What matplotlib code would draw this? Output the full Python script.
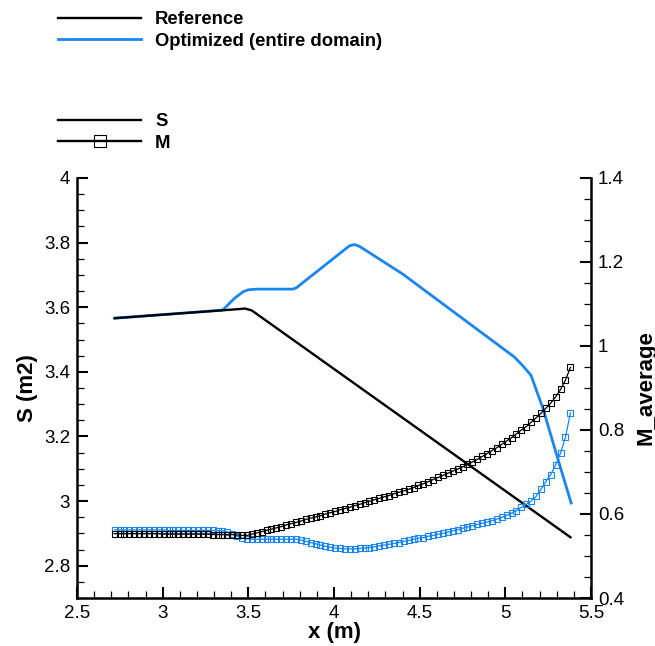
import matplotlib
matplotlib.use("Agg")
import matplotlib.pyplot as plt
from matplotlib.lines import Line2D
from matplotlib.ticker import MultipleLocator

plt.rcParams["font.family"] = ["Liberation Sans", "DejaVu Sans"]

BLUE = "#1a86f2"

# -------------------------------------------------------
# Data
# -------------------------------------------------------
# area S along the duct: reference and optimized shape
x_s_ref = [2.72, 3.44, 3.48, 3.52, 5.38]
s_ref = [3.566, 3.594, 3.596, 3.590, 2.888]

x_s_opt = [2.72, 3.35, 3.42, 3.47, 3.50, 3.55, 3.76, 3.78, 4.09, 4.12, 4.15,
           4.40, 5.05, 5.10, 5.15, 5.22, 5.30, 5.384]
s_opt = [3.566, 3.591, 3.628, 3.648, 3.654, 3.656, 3.656, 3.660, 3.790, 3.794, 3.788,
         3.703, 3.447, 3.420, 3.389, 3.286, 3.142, 2.994]

# sampling stations of the averaged Mach number
x_m = [
    2.720, 2.749, 2.777, 2.806, 2.834, 2.863, 2.892, 2.920, 2.949, 2.977,
    3.006, 3.035, 3.063, 3.092, 3.120, 3.149, 3.178, 3.206, 3.235, 3.263,
    3.292, 3.321, 3.349, 3.378, 3.406, 3.435, 3.464, 3.493, 3.521, 3.550,
    3.578, 3.607, 3.635, 3.664, 3.692, 3.721, 3.750, 3.778, 3.807, 3.835,
    3.864, 3.893, 3.921, 3.950, 3.978, 4.007, 4.036, 4.064, 4.093, 4.121,
    4.150, 4.179, 4.207, 4.236, 4.264, 4.293, 4.322, 4.350, 4.379, 4.407,
    4.436, 4.465, 4.493, 4.522, 4.550, 4.579, 4.608, 4.636, 4.665, 4.693,
    4.722, 4.751, 4.779, 4.808, 4.836, 4.865, 4.894, 4.922, 4.951, 4.979,
    5.008, 5.037, 5.065, 5.094, 5.122, 5.151, 5.180, 5.208, 5.237, 5.265,
    5.294, 5.323, 5.351, 5.380,
]
m_ref = [
    0.553, 0.553, 0.553, 0.553, 0.553, 0.553, 0.553, 0.553, 0.553, 0.553,
    0.552, 0.552, 0.552, 0.552, 0.552, 0.552, 0.552, 0.552, 0.552, 0.552,
    0.551, 0.551, 0.551, 0.551, 0.551, 0.550, 0.549, 0.549, 0.552, 0.555,
    0.558, 0.561, 0.564, 0.567, 0.570, 0.574, 0.577, 0.580, 0.583, 0.587,
    0.590, 0.593, 0.596, 0.600, 0.603, 0.606, 0.610, 0.613, 0.616, 0.620,
    0.623, 0.627, 0.630, 0.634, 0.637, 0.641, 0.644, 0.648, 0.652, 0.655,
    0.659, 0.663, 0.668, 0.672, 0.677, 0.682, 0.687, 0.692, 0.697, 0.702,
    0.707, 0.712, 0.718, 0.724, 0.730, 0.737, 0.744, 0.751, 0.758, 0.766,
    0.774, 0.782, 0.791, 0.800, 0.808, 0.819, 0.829, 0.840, 0.852, 0.864,
    0.879, 0.897, 0.919, 0.949,
]
m_opt = [
    0.562, 0.562, 0.562, 0.562, 0.562, 0.562, 0.562, 0.562, 0.562, 0.562,
    0.562, 0.561, 0.561, 0.561, 0.561, 0.561, 0.561, 0.561, 0.561, 0.561,
    0.561, 0.560, 0.560, 0.557, 0.552, 0.547, 0.543, 0.541, 0.540, 0.540,
    0.540, 0.540, 0.540, 0.540, 0.540, 0.540, 0.540, 0.540, 0.538, 0.535,
    0.532, 0.529, 0.526, 0.523, 0.521, 0.519, 0.518, 0.517, 0.517, 0.517,
    0.518, 0.519, 0.520, 0.522, 0.524, 0.526, 0.528, 0.530, 0.532, 0.535,
    0.537, 0.540, 0.542, 0.544, 0.547, 0.549, 0.552, 0.554, 0.557, 0.560,
    0.563, 0.566, 0.569, 0.572, 0.575, 0.578, 0.581, 0.584, 0.588, 0.592,
    0.597, 0.602, 0.608, 0.616, 0.623, 0.631, 0.642, 0.659, 0.677, 0.694,
    0.717, 0.746, 0.783, 0.841,
]

# -------------------------------------------------------
# Figure
# -------------------------------------------------------
fig = plt.figure(figsize=(6.55, 6.46), dpi=100)
ax = fig.add_axes([0.1176, 0.0743, 0.7847, 0.6502])
ax2 = ax.twinx()

# S on the left axis
ax.plot(x_s_opt, s_opt, color=BLUE, lw=2.0, solid_joinstyle="round")
ax.plot(x_s_ref, s_ref, color="black", lw=1.7)

# M on the right axis
ax2.plot(x_m, m_opt, color=BLUE, lw=0.9, marker="s", ms=3.8,
         mfc="none", mec=BLUE, mew=0.8)
ax2.plot(x_m, m_ref, color="black", lw=0.9, marker="s", ms=3.8,
         mfc="none", mec="black", mew=0.8)

ax.set_xlim(2.5, 5.5)
ax.set_ylim(2.7, 4.0)
ax2.set_ylim(0.4, 1.4)

ax.xaxis.set_major_locator(MultipleLocator(0.5))
ax.xaxis.set_minor_locator(MultipleLocator(0.1))
ax.yaxis.set_major_locator(MultipleLocator(0.2))
ax.yaxis.set_minor_locator(MultipleLocator(0.05))
ax2.yaxis.set_major_locator(MultipleLocator(0.2))
ax2.yaxis.set_minor_locator(MultipleLocator(0.05))

ax.xaxis.set_major_formatter(lambda v, p: f"{v:g}")
ax.yaxis.set_major_formatter(lambda v, p: f"{v:g}")
ax2.yaxis.set_major_formatter(lambda v, p: f"{v:g}")

# spines: left / bottom on ax, right on ax2, no top
ax.spines[["top", "right"]].set_visible(False)
ax2.spines[["top", "left", "bottom"]].set_visible(False)
for sp in ["left", "bottom"]:
    ax.spines[sp].set_linewidth(1.8)
ax2.spines["right"].set_linewidth(1.8)

ax.tick_params(which="major", direction="in", length=8.2, width=1.5,
               labelsize=13.5, pad=5, right=False, top=False)
ax.tick_params(which="minor", direction="in", length=5, width=0.9,
               right=False, top=False)
ax2.tick_params(which="major", direction="in", length=8.2, width=1.5,
                labelsize=13.5, pad=5)
ax2.tick_params(which="minor", direction="in", length=5, width=0.9)

ax.set_xlabel("x (m)", fontsize=16, fontweight="bold", labelpad=0)
ax.set_ylabel("S (m2)", fontsize=16, fontweight="bold", labelpad=4)
ax2.set_ylabel("M_average", fontsize=16, fontweight="bold", labelpad=8)

# -------------------------------------------------------
# Legends above the axes
# -------------------------------------------------------
LEG_FONT = {"size": 13.3, "weight": "bold"}

h_case = [
    Line2D([], [], color="black", lw=1.7),
    Line2D([], [], color=BLUE, lw=2.0),
]
leg1 = fig.legend(h_case, ["Reference", "Optimized (entire domain)"],
                  loc="upper left", bbox_to_anchor=(58 / 655, 1 - 11 / 646),
                  frameon=False, borderpad=0, borderaxespad=0,
                  handlelength=4.5, handletextpad=0.75, labelspacing=0.26,
                  prop=LEG_FONT)

h_var = [
    Line2D([], [], color="black", lw=1.7),
    Line2D([], [], color="black", lw=1.7, marker="s", ms=9,
           mfc="none", mec="black", mew=0.8),
]
leg2 = fig.legend(h_var, ["S", "M"], numpoints=1,
                  loc="upper left", bbox_to_anchor=(58 / 655, 1 - 113 / 646),
                  frameon=False, borderpad=0, borderaxespad=0,
                  handlelength=4.5, handletextpad=0.75, labelspacing=0.26,
                  prop=LEG_FONT)

plt.savefig("out.png", dpi=100)
